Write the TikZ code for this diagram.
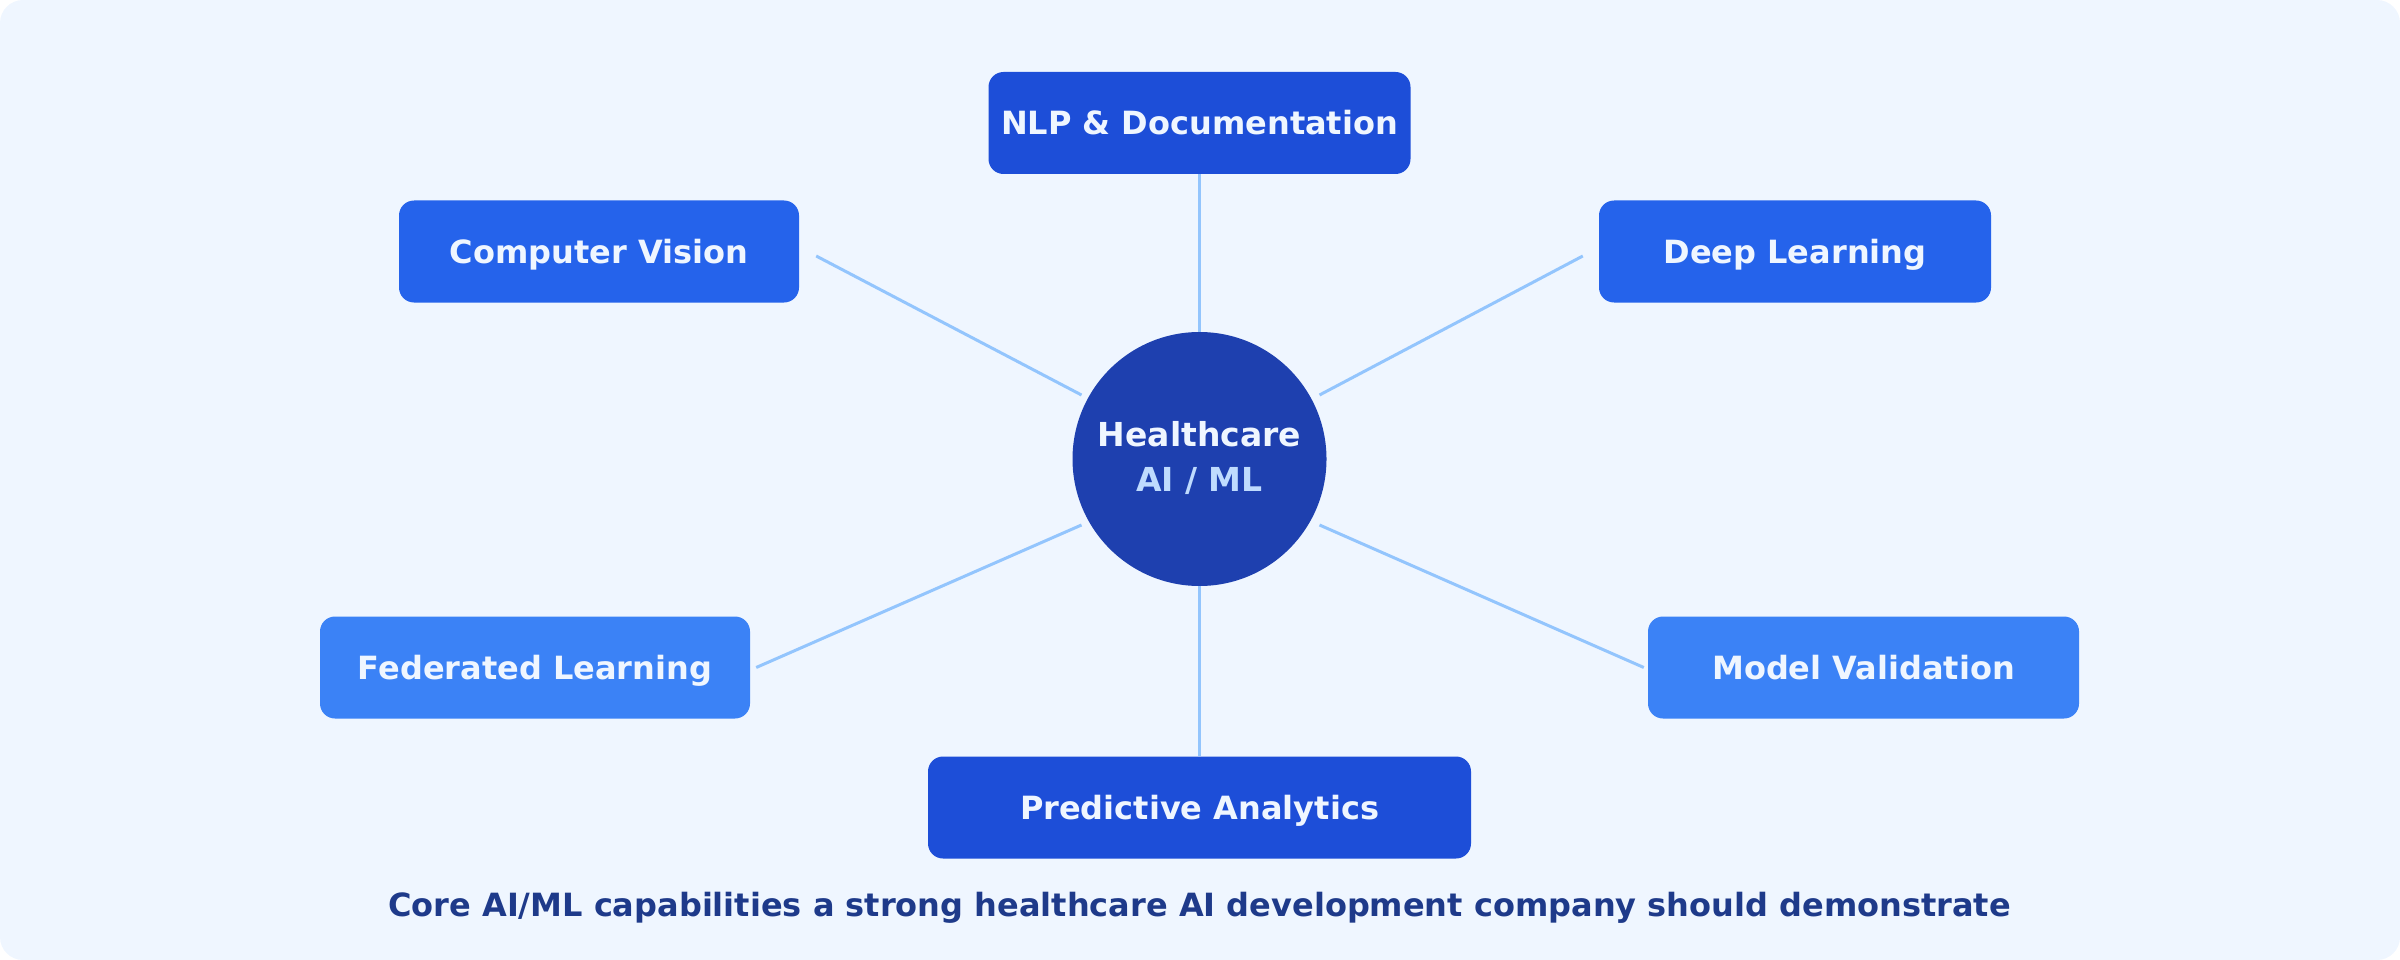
\documentclass[tikz,border=0pt]{standalone}
\usepackage{fontspec}
\setmainfont{DejaVu Sans}
\definecolor{bgc}{HTML}{EFF6FF}
\definecolor{darkbox}{HTML}{1D4ED8}
\definecolor{midbox}{HTML}{2563EB}
\definecolor{lightbox}{HTML}{3B82F6}
\definecolor{hubc}{HTML}{1E40AF}
\definecolor{linec}{HTML}{93C5FD}
\definecolor{txtc}{HTML}{EFF6FF}
\definecolor{subc}{HTML}{BFDBFE}
\definecolor{capc}{HTML}{1E3A8A}
\begin{document}
\begin{tikzpicture}[x=1pt,y=-1pt,
  capbox/.style={rounded corners=15pt, inner sep=0pt, text=txtc,
    font=\fontsize{32}{38}\selectfont\bfseries, minimum height=102pt,
    text height=24pt, text depth=0pt},
  conn/.style={draw=linec, line width=3pt}]
\fill[bgc, rounded corners=23pt] (0,0) rectangle (2400,960);
\useasboundingbox (0,0) rectangle (2400,960);

\node[circle, fill=hubc, minimum size=254pt, inner sep=0pt] (hub) at (1199.5,459) {};
\node[text=txtc, font=\fontsize{33}{38}\selectfont\bfseries, text height=24pt, text depth=0pt] (hubA) at (1199.5,434) {Healthcare};
\node[text=subc, font=\fontsize{33}{38}\selectfont\bfseries, text height=24pt, text depth=0pt] (hubB) at (1199.5,479) {AI / ML};

\node[capbox, fill=darkbox, minimum width=422pt] (nlp) at (1199.5,123) {NLP \& Documentation};
\node[capbox, fill=midbox, minimum width=400pt] (cv) at (599,251.5) {Computer Vision};
\node[capbox, fill=midbox, minimum width=392pt] (dl) at (1795,251.5) {Deep Learning};
\node[capbox, fill=lightbox, minimum width=430pt] (fl) at (535,667.5) {Federated Learning};
\node[capbox, fill=lightbox, minimum width=431pt] (mv) at (1863.5,667.5) {Model Validation};
\node[capbox, fill=darkbox, minimum width=543pt] (pa) at (1199.5,807.5) {Predictive Analytics};

\draw[conn] (nlp.south) -- (hub.north);
\draw[conn] (hub.south) -- (pa.north);
\draw[conn] ([shift={(17,4.5)}]cv.east) -- ([shift={(-118,-64)}]hub.center);
\draw[conn] ([shift={(-16,4.5)}]dl.west) -- ([shift={(120,-64)}]hub.center);
\draw[conn] ([shift={(6,0)}]fl.east) -- ([shift={(-118,66)}]hub.center);
\draw[conn] ([shift={(-4,0)}]mv.west) -- ([shift={(120,66)}]hub.center);

\node[text=capc, font=\fontsize{32}{38}\selectfont\bfseries, text height=23pt, text depth=0pt] (cap) at (1199.5,905)
  {Core AI/ML capabilities a strong healthcare AI development company should demonstrate};
\end{tikzpicture}
\end{document}
